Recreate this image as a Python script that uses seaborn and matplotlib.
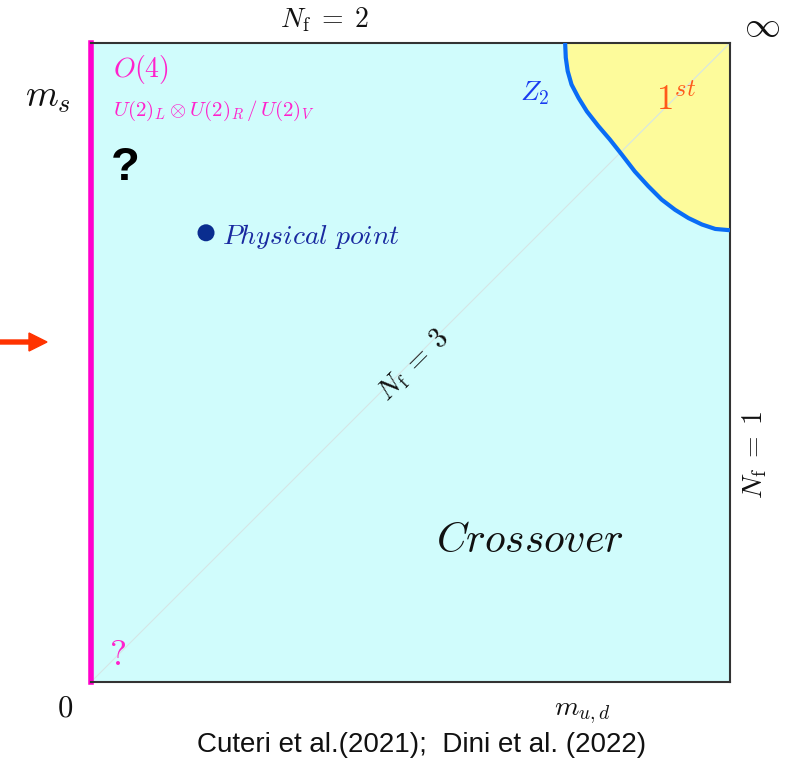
import matplotlib
matplotlib.use("Agg")
import matplotlib.pyplot as plt
import seaborn as sns
import pandas as pd

# ---- data ----
z2_x = [0.742, 0.743, 0.746, 0.752, 0.763, 0.776, 0.794, 0.812, 0.831,
        0.851, 0.872, 0.893, 0.914, 0.935, 0.956, 0.977, 1.0]
z2_y = [1.0, 0.977, 0.956, 0.935, 0.914, 0.893, 0.870, 0.849, 0.825,
        0.799, 0.776, 0.755, 0.739, 0.726, 0.716, 0.709, 0.707]
diag_x = [0.0, 1.0]
diag_y = [0.0, 1.0]
phys_x = [0.18]
phys_y = [0.703]

sns.set_theme(style="white")
plt.rcParams['mathtext.fontset'] = 'cm'
plt.rcParams['font.family'] = ['DejaVu Sans']

fig = plt.figure(figsize=(7.93, 7.64), dpi=100)
ax = fig.add_axes([91/793, 82/764, 639/793, 639/764])
ax.set_xlim(0, 1)
ax.set_ylim(0, 1)
ax.set_facecolor('#d0fcfc')

# first-order region
ax.fill_between(z2_x, z2_y, 1, color='#fdfb9b', zorder=1, lw=0)

sns.lineplot(x=diag_x, y=diag_y, ax=ax, color='#d6e6e6', lw=0.8, zorder=2)
sns.lineplot(data=pd.DataFrame({'x': z2_x, 'y': z2_y}), x='x', y='y', ax=ax,
             color='#0a6cf5', lw=3, zorder=3, sort=False,
             solid_joinstyle='round', solid_capstyle='butt')
sns.scatterplot(x=phys_x, y=phys_y, ax=ax, color='#0a2d8f', s=150,
                edgecolor='none', zorder=4)

ax.set_xticks([])
ax.set_yticks([])
ax.set_xlabel('')
ax.set_ylabel('')
for s in ['top', 'right', 'bottom']:
    ax.spines[s].set_color('#333333')
    ax.spines[s].set_linewidth(1.5)
ax.spines['left'].set_color('#ff00cc')
ax.spines['left'].set_linewidth(4)

T = ax.transAxes
kw = dict(transform=T, clip_on=False)
ax.text(0.366, 1.036, r'$N_\mathrm{f}\;=\;2$', fontsize=20, ha='center', va='center', color='#111111', **kw)
ax.text(1.050, 1.027, r'$\infty$', fontsize=26, ha='center', va='center', color='#111111', **kw)
ax.text(-0.067, 0.915, r'$m_s$', fontsize=27, ha='center', va='center', color='#111111', **kw)
ax.text(-0.041, -0.041, r'$0$', fontsize=22, ha='center', va='center', color='#111111', **kw)
ax.text(0.768, -0.047, r'$m_{u,d}$', fontsize=20, ha='center', va='center', color='#111111', **kw)
ax.text(0.518, -0.099, 'Cuteri et al.(2021);  Dini et al. (2022)', fontsize=20,
        family=['Liberation Sans'], ha='center', va='center', color='#111111', **kw)
ax.text(0.034, 0.958, r'$O(4)$', fontsize=20, ha='left', va='center', color='#ff22cc', **kw)
ax.text(0.034, 0.894, r'$U(2)_L\otimes U(2)_R\,/\,U(2)_V$', fontsize=15, ha='left', va='center', color='#ff22cc', **kw)
ax.text(0.053, 0.804, '?', fontsize=34, fontweight='bold', family=['Liberation Sans'],
        ha='center', va='center', color='#000000', **kw)
ax.text(0.205, 0.697, r'$\mathit{Physical\ point}$', fontsize=20, ha='left', va='center', color='#1a2aa0', **kw)
ax.text(0.695, 0.922, r'$Z_2$', fontsize=20, ha='center', va='center', color='#1a3cf0', **kw)
ax.text(0.915, 0.911, r'$1^{st}$', fontsize=25, ha='center', va='center', color='#ff5a1a', **kw)
ax.text(0.504, 0.496, r'$N_\mathrm{f}\;=\;3$', fontsize=20, rotation=45, ha='center', va='center', color='#111111', **kw)
ax.text(1.039, 0.355, r'$N_\mathrm{f}\;=\;1$', fontsize=20, rotation=90, ha='center', va='center', color='#111111', **kw)
ax.text(0.687, 0.222, r'$\mathit{Crossover}$', fontsize=30, ha='center', va='center', color='#111111', **kw)
ax.text(0.042, 0.042, r'$?$', fontsize=26, ha='center', va='center', color='#ff22cc', **kw)

# red arrow at left
fig.patches.append(matplotlib.patches.FancyArrow(0/793, 1 - 342/764, 47/793, 0,
                    width=4/764, head_width=18/764, head_length=18/793,
                    length_includes_head=True, color='#ff3300',
                    transform=fig.transFigure, figure=fig))

fig.savefig('out.png', dpi=100)
